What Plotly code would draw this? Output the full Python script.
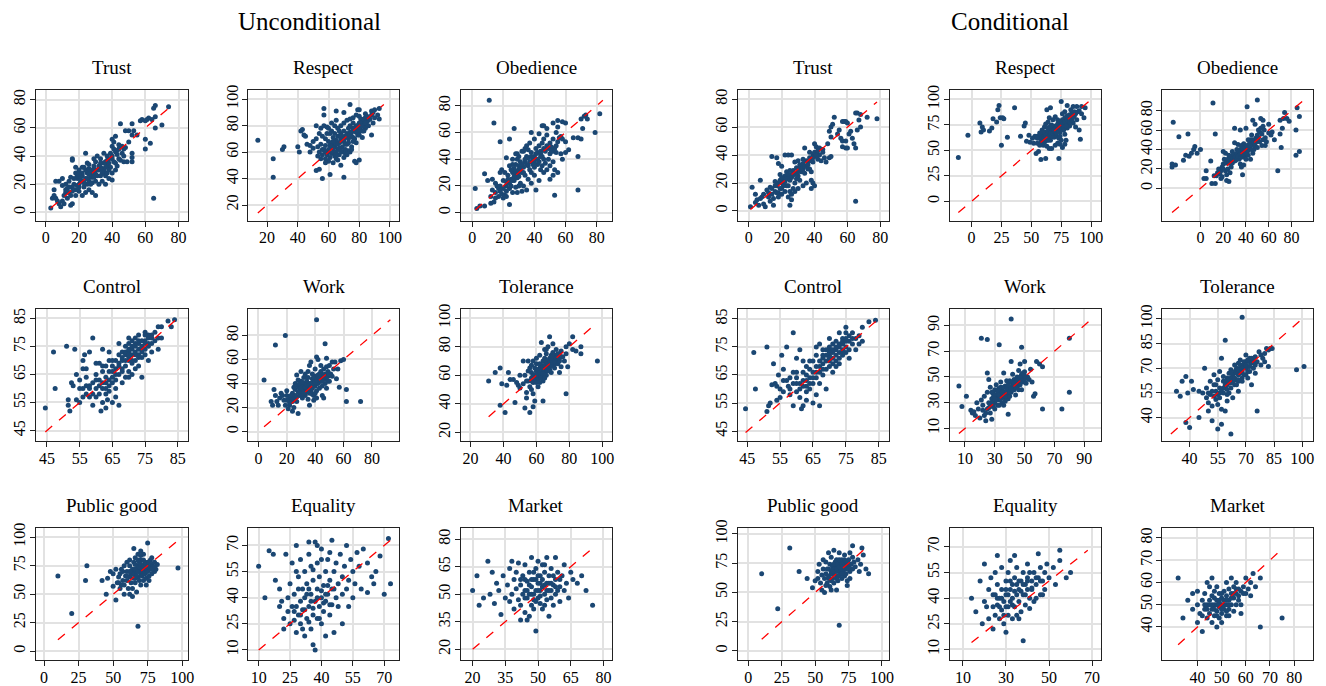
import plotly.graph_objects as go

panel_titles = ["Trust", "Respect", "Obedience", "Control", "Work", "Tolerance",
                "Public good", "Equality", "Market"]
block_titles = ["Unconditional", "Conditional"]

u_trust = [(74,75),(66,76),(65,74),(66,68),(62,67),(64,66),(61,66),(58,66),(57,65),(60,65),(70,62),(66,60),(52,63),(50,58),(53,58),(48,58),(45,63),(52,55),(55,55),(60,52),(63,49),(60,45),(65,10),(52,42),(52,39),(52,36),(49,36),(47,36),(46,42),(48,46),(50,50),(44,48),(42,54),(40,52),(41,50),(40,47),(41,45),(42,43),(43,41),(44,38),(38,38),(37,40),(35,42),(33,38),(31,40),(30,36),(40,38),(42,35),(37,33),(35,30),(39,32),(35,28),(32,30),(33,35),(29,33),(28,30),(27,28),(30,27),(28,25),(25,28),(24,30),(22,32),(20,30),(18,32),(16,37),(16,38),(24,42),(25,35),(22,26),(21,22),(19,24),(18,28),(17,20),(15,25),(14,22),(12,20),(10,24),(10,19),(8,22),(6,22),(5,16),(4,10),(3,3),(6,10),(8,6),(9,4),(10,8),(12,14),(13,10),(15,5),(16,6),(18,12),(20,15),(22,12),(24,14),(23,18),(25,20),(26,22),(28,21),(30,22),(32,20),(34,22),(36,20),(38,24),(40,23),(36,26),(34,28),(26,16),(28,14),(30,12),(20,18),(18,16),(14,14),(11,12),(7,8),(5,12),(13,17),(22,22),(24,24),(27,25),(29,28),(31,30),(33,32),(38,30),(40,28),(43,33),(45,37),(47,40),(36,36),(20,20),(16,18),(22,28),(26,31),(19,26),
           (12,16),(14,18),(16,15),(17,24),(19,19),(21,25),(23,21),(25,24),(26,27),(27,20),(29,25),(30,30),(31,26),(32,33),(34,31),(35,35),(36,32),(37,37),(38,35),(39,42),(40,40),(41,36),(43,44),(44,45),(46,47),(47,45),(20,27),(23,32),(26,34),(29,38),(33,26),(37,28),(42,30),(15,12),(11,6)]

u_respect = [(14,69),(24,55),(24,41),(30,62),(31,64),(40,64),(41,60),(42,76),(43,77),(44,73),(45,72),(46,66),(48,65),(50,63),(52,46),(54,47),(56,40),(61,43),(70,41),(57,93),(57,88),(65,91),(70,90),(74,96),(79,92),(80,92),(88,91),(90,92),(93,93),(92,88),(93,85),(88,73),(82,76),(78,52),(77,53),(80,54),(74,60),(75,64),(68,50),(63,52),(60,53),(58,55),(55,55),(53,57),(54,60),(56,62),(58,65),(59,58),(61,56),(62,59),(64,57),(65,55),(66,54),(67,58),(70,56),(72,58),(73,61),(75,62),(66,62),(64,64),(62,66),(60,68),(58,70),(56,72),(54,74),(52,80),(55,78),(57,80),(59,79),(60,78),(62,76),(64,74),(66,72),(68,70),(70,68),(71,72),(73,70),(72,74),(74,75),(76,78),(78,80),(80,82),(82,84),(84,86),(86,86),(88,88),(85,83),(83,81),(81,79),(79,77),(77,76),(75,72),(77,70),(80,73),(82,71),(78,67),(76,68),(72,66),(69,64),(67,67),(65,69),(63,71),(61,74),(59,74),(66,78),(68,80),(70,82),(72,84),(74,85),(76,86),(78,88),(80,87),(84,89),(86,84),(89,82),(86,80),(84,78),(83,76),(80,76),(70,76),(68,74),(64,80),(62,82),(65,84),(50,68),(48,60),(53,64),(55,66),(57,62),(63,60),(69,60),(71,62),(60,62),(58,60),(52,70),(64,67),(74,80),(76,82),(81,85),(73,78),(67,76),
             (60,60),(62,64),(63,68),(65,60),(66,66),(67,63),(68,68),(69,72),(70,70),(71,66),(72,72),(73,67),(74,73),(75,75),(76,71),(77,78),(78,75),(79,80),(80,79),(81,82),(82,80),(83,85),(85,87),(87,85),(89,90),(90,86),(61,65),(63,63),(56,58),(58,52),(65,58),(68,61),(71,59),(79,73),(84,82)]

u_obedience = [(11,84),(14,67),(18,53),(24,55),(27,63),(2,18),(5,5),(3,3),(8,5),(12,7),(14,8),(10,24),(8,29),(13,25),(15,22),(16,20),(17,18),(15,15),(13,17),(12,12),(17,12),(19,14),(20,11),(21,13),(22,16),(18,20),(20,24),(22,20),(24,22),(25,25),(24,18),(26,15),(28,19),(29,15),(31,22),(30,27),(28,28),(26,30),(27,33),(25,32),(23,28),(21,30),(19,32),(22,41),(26,40),(28,36),(30,32),(32,30),(33,34),(31,38),(30,42),(29,44),(32,46),(34,48),(35,50),(36,47),(38,45),(35,42),(34,38),(36,35),(37,32),(38,30),(40,28),(36,25),(33,20),(35,17),(41,17),(42,36),(40,38),(39,40),(40,42),(42,45),(41,48),(43,50),(44,46),(45,52),(46,55),(48,58),(44,42),(46,40),(47,37),(45,35),(44,32),(46,30),(48,32),(50,35),(52,38),(53,32),(55,30),(52,28),(49,40),(50,44),(52,46),(53,48),(54,50),(55,53),(56,56),(58,55),(60,53),(57,57),(54,60),(55,64),(55,69),(52,67),(45,65),(46,65),(43,59),(40,55),(48,63),(58,68),(60,67),(65,56),(68,56),(70,70),(72,72),(73,73),(74,70),(71,63),(70,55),(68,42),(68,17),(53,13),(79,60),(82,74),(38,60),(37,52),(33,46),(26,36),(24,35),(18,30),(27,24),(30,20),(32,16),(38,22),(43,24),(50,25),(58,40),(60,45),(62,47),(57,44),(54,45),(51,49),(24,6),(30,35),(34,28),(28,44),
               (20,18),(22,23),(23,25),(25,20),(27,27),(28,31),(29,26),(30,30),(31,33),(32,36),(33,30),(34,40),(35,36),(36,41),(37,38),(38,42),(39,36),(40,34),(41,44),(42,40),(43,38),(44,44),(45,42),(46,48),(47,46),(48,50),(49,48),(50,52),(51,46),(52,55),(15,11),(18,16),(22,12),(26,24),(29,40)]

u_control = [(44.5,53),(47,73),(47.5,60),(51,75),(51.5,54),(51.5,56),(52,52),(52.5,62),(53,61),(53.5,74),(54,56),(54,65),(55,60),(55,63),(55,55),(56,57),(56,67),(56,70),(56.5,72),(57,64),(57,58),(58,60),(58,73),(59,78),(59,62),(59,54),(60,60),(60,65),(60,69),(61,63),(61,58),(61.5,52),(62,55),(62,62),(62,66),(62,74),(63,53),(63,58),(63,60),(63,64),(63,68),(63.5,56),(64,61),(64,66),(64,70),(64,73),(65,62),(65,64),(65,68),(65,55),(66,67),(66,63),(66,57),(66,70),(67,54),(67,65),(67,69),(67,76),(68,66),(68,70),(68,73),(68,62),(69,68),(69,72),(69,75),(69,64),(70,70),(70,73),(70,76),(70,78),(70,66),(71,72),(71,74),(71,77),(71,69),(72,73),(72,75),(72,78),(72,70),(72,67),(73,74),(73,76),(73,72),(73,79),(74,75),(74,71),(74,73),(74,64),(75,77),(75,74),(75,80),(75,72),(76,76),(76,78),(76,75),(77,79),(77,76),(77,73),(78,77),(78,80),(79,78),(79,82),(79,74),(80,82),(80,78),(82,84),(84,84.5),(83,82),(76,70),(70,64),(66,60),(64,59),(60,57),(58,61),(57,67),(67,72),(65,70),(69,70),(71,65),(73,68),(62,68),(61,69),
             (68,71),(69,73),(70,71),(70,74),(71,75),(72,76),(72,72),(73,77),(74,77),(74,74),(75,76),(76,79),(71,70),(67,68),(66,65),(65,66),(64,63),(63,62),(62,60),(61,61),(60,63),(59,58),(58,57),(57,61),(56,60),(68,67),(70,72),(73,71),(75,79),(77,78)]

u_work = [(4,43),(9,25),(10,22),(11,35),(12,72),(12,30),(13,25),(14,22),(15,28),(16,32),(17,30),(18,26),(19,80),(19,22),(20,34),(20,30),(21,19),(22,22),(22,28),(23,25),(24,17),(24,32),(25,20),(25,28),(26,35),(26,40),(27,47),(27,25),(28,15),(28,38),(29,30),(29,36),(30,42),(30,33),(31,28),(31,38),(32,35),(32,45),(33,40),(33,30),(34,36),(34,42),(35,38),(35,45),(36,22),(36,32),(36,55),(37,40),(37,34),(38,44),(38,48),(38,36),(39,30),(39,42),(40,38),(40,46),(40,52),(41,62),(41,93),(41,34),(42,44),(42,40),(42,60),(43,48),(43,36),(44,42),(44,50),(45,46),(45,38),(45,30),(46,28),(46,44),(46,52),(47,73),(47,48),(47,40),(48,54),(48,36),(48,61),(49,46),(49,50),(50,42),(50,55),(51,48),(52,46),(52,58),(53,52),(54,58),(55,44),(56,52),(57,37),(58,59),(60,60),(62,35),(62,25),(72,25),(44,55),(30,50),(35,50),(25,37),(28,43),(33,48),(39,26),(41,28),(37,58),(43,42),(41,40),(39,39),(36,37),(34,33),(31,31),(27,29),(23,30),
          (28,33),(29,40),(30,36),(31,41),(32,32),(33,37),(34,39),(35,34),(36,40),(37,36),(38,40),(39,45),(40,41),(41,43),(42,47),(43,44),(44,47),(45,42),(46,47),(47,44),(48,45),(49,42),(50,48),(38,31),(40,32),(35,27),(26,30),(24,25),(22,24),(20,26)]

u_tolerance = [(31,56),(35,62),(38,65),(38,39),(39,54),(41,34),(42,53),(43,62),(44,57),(46,57),(47,41),(48,55),(49,53),(50,51),(50,60),(52,54),(52,70),(53,60),(53,37),(54,48),(54,44),(55,56),(55,63),(55,70),(56,34),(56,52),(57,58),(57,62),(57,67),(58,38),(58,47),(58,55),(59,60),(59,65),(59,42),(60,57),(60,63),(60,68),(60,72),(61,60),(61,52),(62,65),(62,58),(62,74),(63,83),(63,62),(63,67),(64,42),(64,56),(64,70),(65,63),(65,72),(65,78),(66,60),(66,68),(66,75),(67,66),(67,70),(67,80),(68,64),(68,72),(68,87),(69,69),(69,74),(69,62),(70,67),(70,71),(70,76),(71,73),(71,65),(72,70),(72,78),(72,74),(73,68),(73,72),(74,75),(74,70),(75,77),(75,66),(76,73),(77,70),(78,47),(78,75),(78,80),(79,66),(80,82),(82,78),(82,87),(84,77),(87,80),(87,75),(97,70),(70,82),(66,78),(74,62),(56,65),(58,70),(62,68),(64,64),(66,64),(68,68),(71,68),(60,60),(57,50),(54,56),(59,56),(63,60),
               (58,60),(59,58),(60,61),(61,64),(61,57),(62,62),(63,65),(63,58),(64,66),(64,61),(65,67),(65,60),(66,70),(66,65),(67,68),(67,63),(68,70),(68,66),(69,72),(69,67),(70,73),(70,69),(71,70),(72,72),(73,75),(74,72),(60,55),(57,56),(62,55),(65,58)]

u_public = [(10,66),(20,33),(30,62),(31,75),(42,62),(45,50),(48,70),(50,57),(52,45),(53,60),(54,65),(55,55),(55,68),(56,72),(57,62),(58,50),(58,58),(59,66),(60,70),(60,62),(61,55),(62,75),(62,65),(63,60),(63,68),(64,72),(64,55),(65,64),(65,78),(66,68),(66,60),(67,72),(67,52),(68,22),(68,65),(68,75),(69,70),(69,62),(70,68),(70,80),(70,58),(71,74),(71,66),(72,70),(72,62),(73,76),(73,68),(74,72),(74,64),(75,78),(75,95),(75,70),(76,74),(76,66),(77,80),(77,72),(78,76),(78,68),(79,74),(80,78),(80,70),(81,72),(82,76),(70,88),(72,85),(68,85),(66,82),(60,78),(58,75),(65,90),(97,73),(46,64),(50,68),(52,72),(56,58),(62,50),(64,48),(74,58),(78,82),(62,80),(66,76),(60,66),(57,70),(70,73),(73,73),(69,78),(76,62),(54,60),
            (65,70),(66,72),(67,66),(68,70),(69,74),(70,76),(71,70),(72,74),(73,78),(74,76),(75,74),(76,78),(66,64),(64,68),(62,70),(68,80),(70,84),(72,80),(78,72),(80,74)]

u_equality = [(10,58),(13,40),(15,67),(17,65),(18,50),(20,45),(21,38),(22,28),(22,22),(23,65),(24,32),(25,25),(25,48),(26,35),(26,60),(27,27),(27,42),(28,20),(28,70),(29,30),(29,52),(30,38),(30,25),(30,62),(31,45),(31,33),(32,18),(32,55),(32,40),(33,28),(33,48),(34,35),(34,65),(35,22),(35,42),(35,58),(36,30),(36,50),(36,13),(37,38),(37,72),(37,10),(38,45),(38,28),(38,60),(39,35),(39,52),(40,40),(40,25),(40,68),(41,47),(41,32),(42,55),(42,38),(43,42),(43,62),(44,30),(44,50),(45,45),(45,36),(45,73),(46,55),(47,40),(47,60),(48,48),(48,35),(49,65),(50,52),(50,42),(51,58),(52,45),(52,70),(53,50),(54,62),(55,40),(55,55),(56,48),(57,66),(58,58),(59,45),(60,68),(62,60),(64,52),(65,48),(66,55),(68,64),(70,42),(72,74),(73,48),(50,25),(46,20),(42,18),(34,72),(38,70),(40,62),(44,66),(24,40),(20,35),(28,55),(62,43),(53,35),
              (28,35),(30,30),(32,33),(33,42),(35,38),(36,34),(38,40),(40,44),(41,37),(42,42),(43,47),(44,36),(46,45),(27,32),(29,45),(34,45),(36,56),(39,28),(31,22),(34,26)]

u_market = [(20,52),(22,60),(23,44),(25,48),(27,68),(28,50),(29,62),(30,45),(31,56),(32,52),(33,39),(34,60),(35,48),(36,55),(37,46),(37,64),(38,50),(39,58),(39,42),(40,53),(40,62),(41,47),(41,67),(42,55),(42,44),(43,50),(43,60),(44,40),(44,52),(44,66),(45,48),(45,57),(45,36),(46,62),(46,50),(47,44),(47,54),(47,70),(48,58),(48,47),(48,42),(49,52),(49,64),(49,30),(50,48),(50,56),(50,68),(51,45),(51,60),(51,52),(52,54),(52,42),(52,66),(53,50),(53,62),(54,47),(54,56),(54,70),(55,52),(55,60),(55,38),(56,48),(56,64),(57,55),(57,44),(58,58),(58,50),(59,62),(60,54),(60,46),(61,60),(62,52),(62,66),(63,56),(64,48),(65,62),(66,58),(68,56),(70,60),(75,44),(72,52),(46,38),(42,36),(38,68),(58,70),(53,44),(47,50),(44,58),(56,56),(59,52),(51,56),(49,58),
            (45,52),(46,55),(47,58),(48,50),(49,46),(50,52),(51,49),(52,58),(53,55),(54,52),(55,56),(56,52),(57,60),(58,54),(50,60),(44,48),(42,58),(60,58),(48,62),(53,66)]

c_trust = [(1,3),(2,17),(4,6),(5,8),(6,4),(7,22),(4,12),(8,10),(9,5),(10,3),(11,15),(12,10),(13,7),(14,12),(15,9),(16,14),(17,18),(18,13),(19,16),(20,20),(21,22),(22,25),(23,18),(22,14),(24,10),(25,4),(26,8),(25,14),(27,16),(28,20),(29,23),(30,25),(31,22),(32,28),(33,30),(34,27),(35,32),(36,35),(37,30),(38,28),(38,22),(39,20),(40,18),(38,16),(35,20),(33,18),(30,16),(28,14),(26,12),(20,12),(18,10),(15,4),(13,17),(14,39),(17,38),(18,34),(20,32),(22,40),(24,40),(26,40),(28,35),(30,36),(33,37),(34,45),(37,42),(39,40),(40,48),(41,46),(40,39),(42,37),(44,36),(46,38),(47,35),(49,38),(50,39),(45,42),(43,45),(48,48),(50,53),(49,57),(50,60),(52,67),(51,62),(55,58),(54,55),(56,52),(57,50),(57,46),(59,45),(60,45),(59,50),(61,55),(60,63),(58,64),(59,64),(62,57),(63,52),(65,45),(64,48),(65,7),(65,70),(66,70),(67,65),(68,60),(66,58),(68,69),(72,67),(78,66),(57,64),(23,28),(25,29),(27,26),(21,18),(19,26),(16,21),(12,13),(9,12),(7,9),(24,24),(26,26),(31,31),(36,30),(33,33),(29,27),(43,40),(45,44),(39,35),
           (14,16),(16,18),(18,20),(19,22),(20,24),(21,19),(22,21),(23,23),(24,26),(25,22),(26,24),(27,29),(28,26),(29,31),(30,28),(31,33),(32,30),(33,34),(34,32),(35,36),(36,33),(37,38),(38,36),(39,38),(40,42),(41,40),(42,43),(24,18),(20,16),(17,13)]

c_respect = [(-11,43),(-3,65),(7,77),(9,73),(10,70),(8,68),(15,69),(17,72),(18,81),(21,78),(22,90),(23,94),(24,82),(26,82),(27,81),(25,55),(30,63),(36,92),(41,64),(44,74),(45,77),(48,65),(46,59),(49,58),(52,57),(54,47),(56,49),(58,41),(62,42),(73,42),(60,55),(59,60),(57,62),(55,64),(53,64),(51,62),(55,57),(57,55),(61,58),(63,54),(65,52),(67,52),(70,55),(72,57),(74,56),(76,53),(78,56),(79,60),(75,60),(73,62),(71,64),(69,63),(66,60),(64,60),(62,62),(60,64),(58,66),(59,70),(61,73),(62,76),(64,78),(65,82),(63,90),(66,92),(75,98),(80,94),(85,93),(88,93),(92,93),(95,92),(94,82),(91,61),(90,70),(87,73),(85,77),(88,80),(86,84),(84,86),(82,85),(80,84),(78,82),(76,80),(74,78),(72,76),(70,74),(68,72),(66,70),(64,68),(62,68),(67,66),(69,68),(71,70),(73,70),(75,72),(77,74),(79,76),(81,78),(83,80),(80,72),(77,70),(74,68),(70,66),(68,64),(65,66),(63,66),(60,68),(72,80),(70,83),(68,80),(76,86),(78,88),(83,90),(90,89),(92,86),(55,62),(57,67),(66,74),(58,58),(78,66),(82,74),(86,88),(74,64),
             (60,60),(61,62),(62,65),(63,60),(64,63),(65,64),(66,67),(67,64),(68,67),(69,70),(70,68),(71,67),(72,72),(73,68),(74,74),(75,70),(76,76),(77,72),(78,78),(79,74),(80,80),(81,82),(82,78),(83,84),(84,80),(85,83),(87,86),(89,88),(64,72),(67,75)]

c_obedience = [(-24,68),(-25,25),(-25,22),(-22,24),(-19,53),(-15,29),(-13,34),(-11,56),(-10,33),(-8,36),(-6,40),(-5,43),(-3,36),(0,40),(11,88),(50,91),(41,84),(13,56),(5,18),(5,10),(3,10),(9,28),(10,5),(13,5),(14,13),(16,20),(17,15),(18,10),(19,22),(20,25),(21,30),(22,18),(23,14),(24,20),(25,7),(26,16),(27,22),(28,26),(29,30),(30,28),(31,34),(32,32),(33,36),(34,30),(35,25),(36,22),(37,14),(38,24),(39,32),(40,40),(41,38),(42,42),(43,46),(44,50),(45,48),(46,45),(47,40),(48,43),(49,52),(50,55),(51,60),(52,58),(53,62),(54,56),(55,64),(56,60),(57,52),(58,48),(57,44),(54,44),(50,42),(46,36),(44,30),(40,30),(35,40),(33,45),(30,47),(28,38),(25,34),(22,36),(20,38),(30,62),(35,60),(40,62),(46,70),(48,66),(53,72),(55,70),(60,66),(63,58),(65,50),(68,18),(70,56),(71,42),(72,62),(70,70),(73,72),(74,78),(76,72),(78,69),(84,60),(85,83),(84,34),(87,74),(87,38),(60,57),(62,55),(42,50),(38,46),(36,44),(32,40),(26,28),(24,26),(18,18),(15,16),(12,13),(34,34),(42,34),(48,50),(55,50),(45,55),(38,38),(28,33),(22,26),(19,12),(23,8),
               (25,26),(26,30),(27,33),(28,30),(29,35),(30,32),(31,29),(32,36),(33,33),(34,38),(35,35),(36,32),(37,40),(38,35),(39,42),(40,36),(41,44),(42,39),(43,42),(44,44),(45,40),(46,50),(47,47),(48,46),(49,48),(50,50),(51,52),(52,48),(24,30),(20,20)]

c_control = [(44.5,53),(47,73),(47.5,60),(51,75),(51,52),(51.5,54),(52,55),(52.5,61.5),(53,69),(53.5,62),(54,61),(54,56),(54.5,65),(55,57),(55,60),(55.5,72),(56,67),(56,63),(57,75),(57.5,61),(58,64),(59,80),(59,54),(59,66),(60,59),(60,64),(60,71),(61,62),(61,57),(61,74),(61.5,53),(62,54),(62,63),(62,66),(62,70),(63,61),(63,65),(63,68),(63,56),(64,64),(64,67),(64,70),(64,60),(65,62),(65,66),(65,70),(65,55),(66,68),(66,64),(66,72),(66,58),(67,54),(67,66),(67,70),(67,76),(68,69),(68,72),(68,65),(69,60),(69,70),(69,74),(70,72),(70,75),(70,78),(70,68),(71,71),(71,73),(71,76),(72,74),(72,77),(72,70),(73,73),(73,75),(73,80),(73,69),(74,72),(74,76),(74,78),(75,75),(75,78),(75,82),(75,73),(76,77),(76,74),(77,76),(77,80),(78,78),(78,74),(79,79),(79,76),(80,82),(80,77),(82,84),(84,84.5),(76,71),(71,66),(67,62),(63,63),(60,62),(58,60),(66,75),(68,74),(70,70),(72,68),(74,74),(69,67),
             (68,71),(69,72),(70,71),(70,74),(71,74),(72,75),(72,72),(73,76),(74,77),(74,73),(75,77),(76,79),(71,69),(67,68),(66,66),(65,64),(64,62),(63,59),(62,61),(61,60),(60,66),(59,62),(58,58),(57,63),(56,59),(68,67),(70,73),(73,71),(75,80),(77,78)]

c_work = [(6,43),(8,27),(11,35),(14,24),(15,22),(16,23),(17,20),(18,30),(19,25),(20,18),(21,80),(21,32),(22,28),(23,20),(23,35),(24,16),(25,79),(25,38),(25,25),(25,53),(26,30),(26,48),(27,22),(27,42),(28,17),(28,33),(29,37),(29,27),(30,40),(30,30),(31,35),(31,44),(32,28),(32,38),(33,75),(33,41),(33,32),(34,36),(34,46),(35,30),(35,40),(36,53),(36,34),(37,43),(37,38),(38,36),(38,47),(39,21),(39,40),(39,33),(40,42),(40,47),(41,95),(41,38),(41,62),(42,44),(42,52),(43,40),(43,48),(44,46),(44,36),(45,50),(45,42),(46,48),(46,55),(47,44),(47,60),(48,52),(48,73),(48,40),(49,50),(49,46),(50,54),(50,62),(51,45),(52,50),(53,48),(54,56),(55,46),(56,35),(57,37),(58,62),(60,60),(62,58),(62,25),(75,25),(80,80),(80,38),(36,28),(30,25),(27,27),(32,33),(35,35),(38,38),(42,42),(44,44),(46,40),(50,48),(40,35),(34,42),(28,38),
          (28,30),(29,34),(30,36),(31,32),(32,40),(33,36),(34,33),(35,38),(36,42),(37,35),(38,41),(39,44),(40,38),(41,46),(42,40),(43,45),(44,42),(45,47),(46,45),(47,50),(48,47),(49,53),(50,51),(33,28),(37,31),(26,26),(24,22),(22,24),(30,33),(41,41)]

c_tolerance = [(33,56),(35,53),(36,62),(38,65),(38,37),(39,55),(40,34),(41,62),(42,57),(45,40),(45,56),(47,55),(48,70),(49,52),(49,58),(50,44),(50,49),(51,54),(51,62),(52,38),(52,47),(53,66),(53,60),(54,51),(54,56),(55,33),(55,48),(55,63),(56,68),(56,58),(56,52),(57,76),(57,45),(57,36),(58,62),(58,55),(58,65),(59,87),(59,44),(59,60),(60,57),(60,64),(60,50),(61,67),(61,61),(61,55),(62,30),(62,69),(62,58),(63,64),(63,52),(64,72),(64,68),(64,60),(65,70),(65,63),(66,73),(66,56),(66,66),(67,70),(67,75),(68,68),(68,101),(68,62),(69,72),(69,66),(70,70),(70,74),(70,78),(71,71),(71,64),(72,68),(72,74),(73,73),(73,60),(74,70),(74,76),(75,72),(75,67),(76,44),(76,74),(77,80),(78,78),(78,72),(79,76),(80,79),(80,74),(81,82),(82,81),(82,71),(83,82),(84,82),(97,69),(101,71),(67,67),(63,62),(59,58),(56,55),(72,76),(66,62),(62,64),(54,60),
               (58,58),(59,62),(60,60),(61,63),(62,61),(63,66),(64,64),(65,67),(66,69),(67,72),(68,70),(69,74),(70,72),(71,75),(72,71),(73,76),(74,74),(60,54),(57,57),(55,54),(53,53),(52,56),(50,55),(65,60),(68,64),(70,66),(62,67),(66,63),(71,68),(75,77)]

c_public = [(10,66),(22,36),(31,88),(38,68),(44,62),(48,54),(50,60),(52,68),(53,74),(54,58),(55,65),(56,70),(57,62),(57,50),(58,76),(58,66),(59,58),(60,70),(60,64),(61,74),(61,55),(62,68),(62,80),(63,62),(63,72),(64,66),(64,58),(65,70),(65,76),(66,64),(66,72),(66,52),(67,68),(67,60),(68,74),(68,22),(68,84),(69,66),(69,70),(70,62),(70,72),(70,78),(71,68),(71,76),(72,64),(72,70),(72,82),(73,66),(73,74),(74,70),(74,60),(75,72),(75,78),(76,68),(76,84),(77,74),(78,70),(78,90),(79,76),(80,72),(82,78),(84,74),(86,82),(88,70),(90,66),(85,88),(64,86),(60,84),(56,78),(58,56),(62,52),(74,56),(66,78),(70,68),(62,60),(64,74),(68,64),(72,76),(76,62),(59,70),(55,52),(52,62),(83,68),
            (62,66),(64,70),(65,68),(66,70),(67,74),(68,72),(69,76),(70,74),(71,72),(72,78),(73,72),(74,76),(75,70),(76,74),(60,62),(63,68),(66,62),(70,66),(68,78),(78,80)]

c_equality = [(14,40),(16,32),(18,50),(19,25),(20,38),(21,35),(22,28),(22,45),(23,52),(24,42),(24,22),(25,30),(25,55),(26,36),(26,48),(27,28),(27,40),(28,33),(28,58),(28,45),(29,25),(29,38),(30,42),(30,50),(30,20),(31,30),(31,35),(31,55),(32,45),(32,38),(32,62),(33,28),(33,48),(33,40),(34,35),(34,52),(35,42),(35,30),(35,58),(36,45),(36,38),(37,50),(37,32),(38,55),(38,42),(38,15),(39,48),(39,36),(40,45),(40,52),(40,60),(41,40),(42,50),(42,46),(43,55),(43,38),(44,48),(45,52),(45,66),(46,42),(46,58),(47,50),(48,55),(48,45),(49,60),(50,52),(52,58),(53,48),(55,62),(55,68),(58,52),(60,55),(26,65),(20,60),(34,65),(44,40),(36,28),(30,45),(41,34),(47,42),(25,42),
              (28,40),(30,35),(31,42),(32,50),(33,36),(34,44),(35,48),(36,50),(37,44),(38,48),(39,42),(40,50),(41,55),(42,45),(44,52),(27,35),(29,30),(26,40),(24,35),(46,50)]

c_market = [(32,62),(34,44),(36,52),(38,48),(38,55),(40,50),(40,42),(41,46),(42,52),(42,38),(43,48),(43,55),(44,44),(44,50),(45,46),(45,52),(45,58),(46,42),(46,48),(46,54),(47,50),(47,45),(47,56),(48,47),(48,52),(48,40),(49,49),(49,55),(49,44),(50,50),(50,53),(50,46),(51,48),(51,56),(51,52),(52,50),(52,54),(52,45),(53,52),(53,57),(53,48),(54,55),(54,50),(55,53),(55,58),(55,47),(56,55),(56,60),(57,52),(57,57),(58,56),(58,50),(59,58),(60,55),(60,62),(61,57),(62,60),(63,64),(64,58),(66,62),(66,40),(75,44),(46,62),(44,60),(54,62),(40,56),(48,58),(58,46),(50,42),(52,60),(56,50),(62,54),(47,53),(53,45),(49,51),
            (46,50),(47,48),(48,50),(49,52),(50,48),(51,50),(52,52),(53,50),(54,53),(55,55),(48,45),(50,55),(45,50),(44,48),(56,57),(57,54),(59,55),(42,45),(43,50),(52,47)]

# tick values per panel (order: unconditional 9 panels, then conditional 9 panels)
ticks_u = [[0,20,40,60,80],[20,40,60,80,100],[0,20,40,60,80],
           [45,55,65,75,85],[0,20,40,60,80],[20,40,60,80,100],
           [0,25,50,75,100],[10,25,40,55,70],[20,35,50,65,80]]
ticks_c = [[0,20,40,60,80],[0,25,50,75,100],[0,20,40,60,80],
           [45,55,65,75,85],[10,30,50,70,90],[40,55,70,85,100],
           [0,25,50,75,100],[10,30,50,70],[40,50,60,70,80]]
yticks_u = [[0,20,40,60,80],[20,40,60,80,100],[0,20,40,60,80],
            [45,55,65,75,85],[0,20,40,60,80],[20,40,60,80,100],
            [0,25,50,75,100],[10,25,40,55,70],[20,35,50,65,80]]
yticks_c = [[0,20,40,60,80],[0,25,50,75,100],[0,20,40,60,80],
            [45,55,65,75,85],[10,30,50,70,90],[40,55,70,85,100],
            [0,25,50,75,100],[10,25,40,55,70],[40,50,60,70,80]]

# axis ranges (x then y)
xr_u = [[-6,85.5],[7.7,105.8],[-7.4,90],[41.6,88],[-7.2,99],[14,106],[-6,104],[5,77],[14.5,84]]
yr_u = [[-6.3,87],[7.8,107],[-6.4,91.8],[41.2,88.3],[-8,102],[13.8,106.4],[-8,108],[4,80],[14,86]]
xr_c = [[-6.8,85.1],[-18,108],[-33.5,99],[42.1,88],[0,101],[25.5,105.8],[-8,105],[4,74],[25.5,87.8]]
yr_c = [[-7.3,86.6],[-19.4,109.4],[-33.9,101.4],[41.4,88.5],[0,102.8],[25.6,106],[-8,105],[3.6,81],[25,84.4]]

unc_data = [u_trust, u_respect, u_obedience, u_control, u_work, u_tolerance, u_public, u_equality, u_market]
con_data = [c_trust, c_respect, c_obedience, c_control, c_work, c_tolerance, c_public, c_equality, c_market]

# ---------------- layout geometry (pixels) ----------------
W, H = 1326, 686
col_px = [(36, 188.5), (249.3, 400.7), (462.7, 615), (741, 892.7), (954.3, 1105.7), (1167.7, 1319)]
row_px = [(83, 216), (305, 439), (527, 661)]
block_title_x = [311, 1015]

FONT = "Liberation Serif"
DOT = "#1b4773"

fig = go.Figure()
layout = dict(width=W, height=H, autosize=False, margin=dict(l=0, r=0, t=0, b=0, pad=0),
              paper_bgcolor="white", plot_bgcolor="white", showlegend=False,
              font=dict(family=FONT, color="black"))
annotations = []

k = 0
for block in range(2):
    data = unc_data if block == 0 else con_data
    xt = ticks_u if block == 0 else ticks_c
    yt = yticks_u if block == 0 else yticks_c
    xr = xr_u if block == 0 else xr_c
    yr = yr_u if block == 0 else yr_c
    for i in range(9):
        r, c = divmod(i, 3)
        k += 1
        col = col_px[block * 3 + c]
        row = row_px[r]
        xa = "x" if k == 1 else f"x{k}"
        ya = "y" if k == 1 else f"y{k}"
        pts = data[i]
        xs = [p[0] for p in pts]
        ys = [p[1] for p in pts]
        lo = min(min(xs), min(ys))
        hi = max(max(xs), max(ys))
        fig.add_trace(go.Scatter(x=xs, y=ys, mode="markers", xaxis=xa, yaxis=ya,
                                 marker=dict(size=5, color=DOT, line=dict(width=0)),
                                 hoverinfo="skip"))
        fig.add_trace(go.Scatter(x=[lo, hi], y=[lo, hi], mode="lines", xaxis=xa, yaxis=ya,
                                 line=dict(color="#ff0000", width=1.3, dash="dash"),
                                 hoverinfo="skip"))
        common = dict(showgrid=True, gridcolor="#e2e2e2", gridwidth=1.5, zeroline=False,
                      showline=True, linecolor="#222222", linewidth=1.2, mirror=True,
                      ticks="outside", ticklen=5, tickcolor="#222222",
                      tickfont=dict(family=FONT, size=16, color="black"))
        layout["xaxis" if k == 1 else f"xaxis{k}"] = dict(
            common, domain=[col[0] / W, col[1] / W], anchor=ya, range=xr[i],
            tickmode="array", tickvals=xt[i], ticktext=[str(v) for v in xt[i]],
            ticklabelstandoff=-3)
        layout["yaxis" if k == 1 else f"yaxis{k}"] = dict(
            common, domain=[1 - row[1] / H, 1 - row[0] / H], anchor=xa, range=yr[i],
            tickmode="array", tickvals=yt[i], ticktext=[str(v) for v in yt[i]],
            tickangle=-90, ticklabelstandoff=-2)
        annotations.append(dict(text=panel_titles[i], x=(col[0] + col[1]) / 2 / W,
                                y=1 - (row[0] - 10) / H, xref="paper", yref="paper",
                                xanchor="center", yanchor="bottom", showarrow=False,
                                font=dict(family=FONT, size=19, color="black")))

for b, name in enumerate(block_titles):
    annotations.append(dict(text=name, x=block_title_x[b] / W, y=1 - 14 / H,
                            xref="paper", yref="paper",
                            xanchor="center", yanchor="middle", showarrow=False,
                            font=dict(family=FONT, size=25, color="black")))

layout["annotations"] = annotations
fig.update_layout(**layout)
fig.write_html("out.html",
               config={"displayModeBar": False, "responsive": False},
               default_width="1326px", default_height="686px",
               post_script="document.body.style.margin='0';document.body.style.overflow='hidden';")
